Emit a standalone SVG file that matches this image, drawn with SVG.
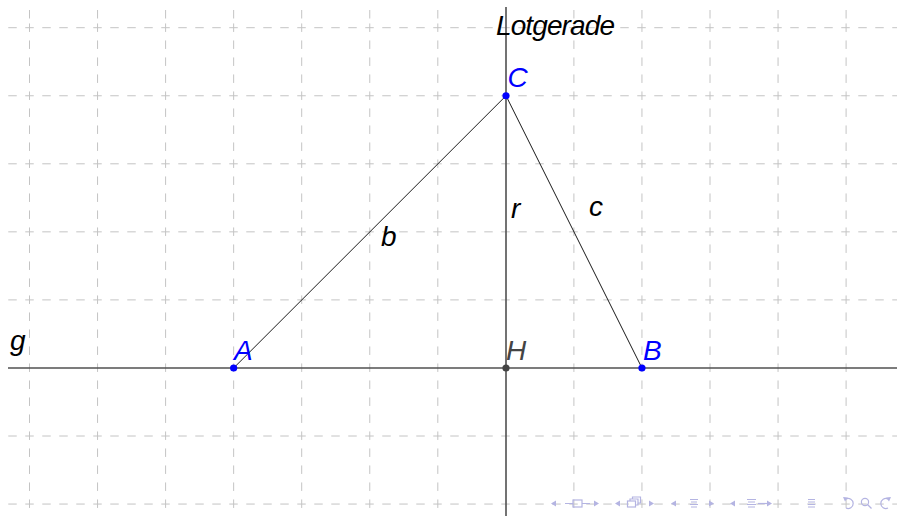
<svg xmlns="http://www.w3.org/2000/svg" width="897" height="516" viewBox="0 0 897 516">
<style>
.grid{stroke:#c4c4c4;stroke-width:1;fill:none;stroke-dasharray:8.5 8.5}
.axis{stroke:#505050;stroke-width:1.6;fill:none}
.edge{stroke:#1a1a1a;stroke-width:1;fill:none}
.lbl{font-family:"Liberation Sans",Arial,sans-serif;font-style:italic;font-size:28px}
.blue{fill:#0000ff}
.dark{fill:#444444}
.blk{fill:#000000}
.nav{fill:#b4b4e2;stroke:none}
.navs{stroke:#b4b4e2;stroke-width:1.2;fill:none}
</style>
<rect width="897" height="516" fill="#ffffff"/>
<g id="grid">
<path class="grid" d="M8.25 27.7H897M8.25 95.75H897M8.25 163.8H897M8.25 231.85H897M8.25 299.9H897M8.25 436H897M8.25 504.05H897"/>
<path class="grid" d="M29.5 10V18.5M29.5 23.45V516M97.55 10V18.5M97.55 23.45V516M165.6 10V18.5M165.6 23.45V516M233.65 10V18.5M233.65 23.45V516M301.7 10V18.5M301.7 23.45V516M369.75 10V18.5M369.75 23.45V516M437.8 10V18.5M437.8 23.45V516M573.9 10V18.5M573.9 23.45V516M641.95 10V18.5M641.95 23.45V516M710 10V18.5M710 23.45V516M778.05 10V18.5M778.05 23.45V516M846.1 10V18.5M846.1 23.45V516"/>
</g>
<g id="connectors">
<path id="line-g" class="axis" d="M8 368H897"/>
<path id="line-lotgerade" class="axis" d="M506 7V516"/>
<path id="edge-AC" class="edge" d="M233.65 368L506 95.75"/>
<path id="edge-CB" class="edge" d="M506 95.75L641.95 368"/>
</g>
<g id="node-A"><circle cx="233.65" cy="368" r="3.6" class="blue"/><text class="lbl blue" x="234" y="360">A</text></g>
<g id="node-B"><circle cx="641.95" cy="368" r="3.6" class="blue"/><text class="lbl blue" x="643" y="360">B</text></g>
<g id="node-C"><circle cx="506" cy="95.75" r="3.6" class="blue"/><text class="lbl blue" x="507.5" y="87">C</text></g>
<g id="node-H"><circle cx="506" cy="368" r="3.6" class="dark"/><text class="lbl dark" x="506" y="360">H</text></g>
<g id="label-g"><text class="lbl blk" x="10" y="350">g</text></g>
<g id="label-lotgerade"><text class="lbl blk" x="496" y="35" textLength="119">Lotgerade</text></g>
<g id="label-b"><text class="lbl blk" x="381" y="246">b</text></g>
<g id="label-r"><text class="lbl blk" x="511" y="218">r</text></g>
<g id="label-c"><text class="lbl blk" x="589" y="216">c</text></g>
<g id="navigation">
<path class="nav" d="M551 503.5l5-3v6z"/>
<path class="navs" d="M565 503.5h8M582 503.5h8"/>
<rect class="navs" x="573" y="500" width="9" height="7"/>
<path class="nav" d="M599 503.5l-5-3v6z"/>
<path class="nav" d="M615 503.5l5-3v6z"/>
<rect class="navs" x="627.5" y="501" width="8" height="6"/>
<path class="navs" d="M630 501v-2h8v6h-2.5M632.5 499v-2h8v6h-2"/>
<path class="nav" d="M654 503.5l-5-3v6z"/>
<path class="nav" d="M671 503.5l5-3v6z"/>
<path class="navs" d="M690 499.5h8M691 502h6M690 504.5h8M691 507h6"/>
<path class="nav" d="M714 503.5l-5-3v6z"/>
<path class="nav" d="M730 503.5l5-3v6z"/>
<path class="navs" d="M747 499.5h9M748 502h7M747 504.5h9M748 507h7"/>
<path class="navs" d="M758 503.5h10"/>
<path class="nav" d="M772 503.5l-5-3v6z"/>
<path class="navs" d="M808 499.5h7M808 502h7M808 504.5h7M808 507h7"/>
<path class="navs" d="M846 499a5 5 0 1 1 0 9"/>
<path class="nav" d="M843 497l5 0.5-3 4z"/>
<circle class="navs" cx="865" cy="502" r="3.6"/>
<path class="navs" d="M867.5 504.5l4 4"/>
<path class="navs" d="M888 499a5 5 0 1 0 0 9"/>
<path class="nav" d="M891 497l-5 0.5 3 4z"/>
</g>
</svg>
